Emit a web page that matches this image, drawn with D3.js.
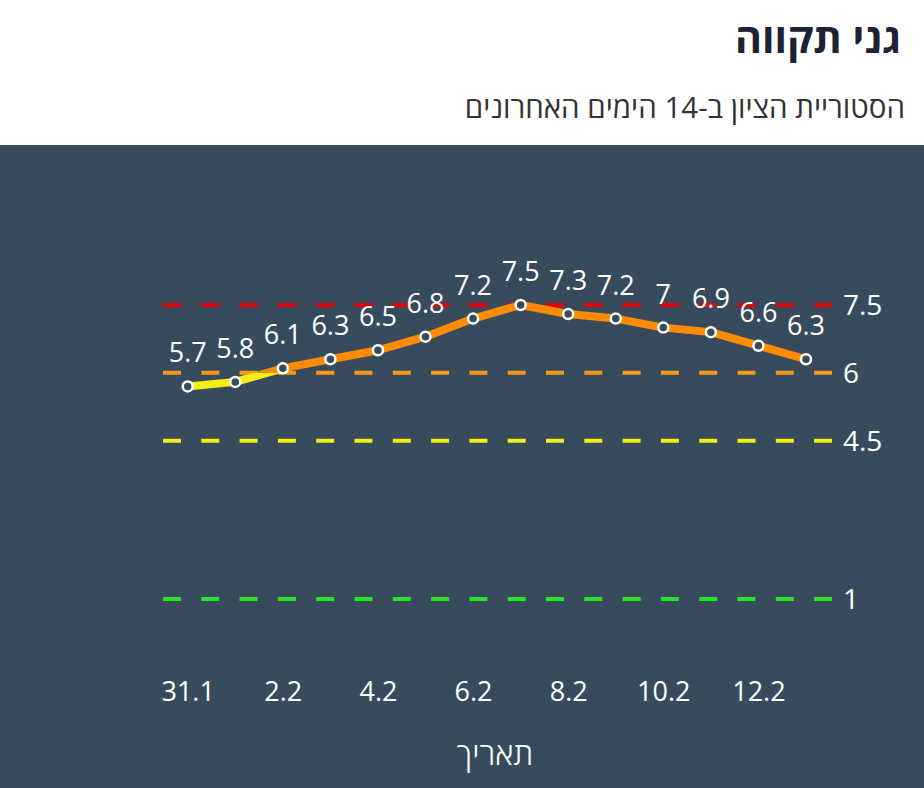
<!DOCTYPE html>
<html>
<head>
<meta charset="utf-8">
<script src="https://cdn.jsdelivr.net/npm/d3@7"></script>
<style>
html,body{margin:0;padding:0;background:#fff;}
svg{display:block;}
text{font-family:"Open Sans","Noto Sans",sans-serif;}
</style>
</head>
<body>
<svg id="chart" width="924" height="788"></svg>
<script>
const titleText = "גני תקווה";
const subtitleText = "הסטוריית הציון ב-14 הימים האחרונים";
const axisTitle = "תאריך";
const dates = ["31.1","1.2","2.2","3.2","4.2","5.2","6.2","7.2","8.2","9.2","10.2","11.2","12.2","13.2"];
const values = [5.7,5.8,6.1,6.3,6.5,6.8,7.2,7.5,7.3,7.2,7.0,6.9,6.6,6.3];
const tickLabels = ["31.1","2.2","4.2","6.2","8.2","10.2","12.2"];
const thresholdValues = [7.5,6,4.5,1];
const thresholdLabels = ["7.5","6","4.5","1"];
const thresholdColors = ["#e8000b","#f39a1e","#f2ef1b","#27e627"];

const svg = d3.select("#chart");
const W = 924, H = 788;

svg.append("rect").attr("x",0).attr("y",145).attr("width",W).attr("height",H-145).attr("fill","#384b5c");

svg.append("text").attr("x",901).attr("y",53).attr("direction","rtl").attr("text-anchor","start")
  .attr("font-size",41).attr("font-weight",700).attr("fill","#1d2235").text(titleText);
svg.append("text").attr("x",905).attr("y",118).attr("direction","rtl").attr("text-anchor","start")
  .attr("font-size",29.5).attr("fill","#333").text(subtitleText);

const x = d3.scalePoint().domain(dates).range([187.7,806]);
const y = d3.scaleLinear().domain([1,7.5]).range([599,305]);

// threshold dashed lines
const th = svg.append("g");
thresholdValues.forEach((v,i)=>{
  th.append("line").attr("x1",163).attr("x2",832).attr("y1",y(v)).attr("y2",y(v))
    .attr("stroke",thresholdColors[i]).attr("stroke-width",4).attr("stroke-dasharray","18 20.3");
  th.append("text").attr("x",843).attr("y",y(v)).attr("dy","0.36em").attr("font-size",28)
    .attr("fill","#fff").text(thresholdLabels[i]);
});

// series line colored by threshold via clip
const defs = svg.append("defs");
defs.append("clipPath").attr("id","above6").append("rect").attr("x",0).attr("y",0).attr("width",W).attr("height",y(6));
defs.append("clipPath").attr("id","below6").append("rect").attr("x",0).attr("y",y(6)).attr("width",W).attr("height",H);

const line = d3.line().x((d,i)=>x(dates[i])).y(d=>y(d));
svg.append("path").datum(values).attr("d",line).attr("fill","none").attr("stroke","#ff8c00")
  .attr("stroke-width",8).attr("stroke-linejoin","round").attr("clip-path","url(#above6)");
svg.append("path").datum(values).attr("d",line).attr("fill","none").attr("stroke","#f5ee10")
  .attr("stroke-width",8).attr("stroke-linejoin","round").attr("clip-path","url(#below6)");

svg.append("g").selectAll("circle").data(values).join("circle")
  .attr("cx",(d,i)=>x(dates[i])).attr("cy",d=>y(d)).attr("r",5)
  .attr("fill","#384b5c").attr("stroke","#fff").attr("stroke-width",2.5);

svg.append("g").selectAll("text").data(values).join("text")
  .attr("x",(d,i)=>x(dates[i])).attr("y",d=>y(d)-24).attr("text-anchor","middle")
  .attr("font-size",27).attr("fill","#fff").text(d=>String(d));

// x axis tick labels
const xAxis = d3.axisBottom(x).tickValues(tickLabels).tickSize(0).tickPadding(0);
const gx = svg.append("g").attr("transform","translate(0,682)").call(xAxis);
gx.select(".domain").remove();
gx.selectAll("text").attr("font-size",27).attr("fill","#fff").attr("font-family","'Open Sans',sans-serif");

svg.append("text").attr("x",495).attr("y",765).attr("text-anchor","middle").attr("font-size",32)
  .attr("font-weight",300).attr("fill","#fff").text(axisTitle);
</script>
</body>
</html>
